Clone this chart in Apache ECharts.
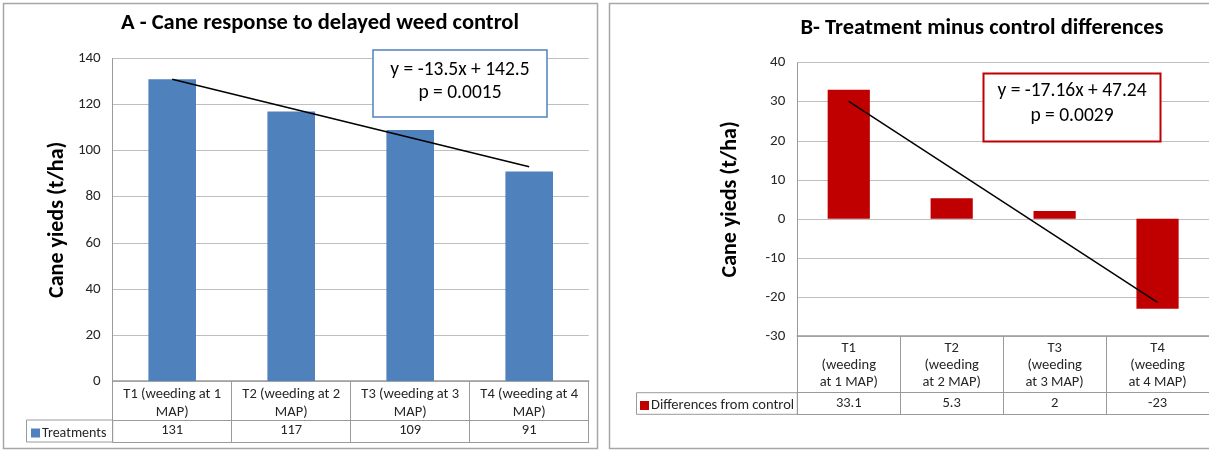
<!DOCTYPE html>
<html>
<head>
<meta charset="utf-8">
<script src="https://cdn.jsdelivr.net/npm/echarts@6/dist/echarts.min.js"></script>
<style>
html,body{margin:0;padding:0;background:#fff;}
#chart{width:1209px;height:450px;}
</style>
</head>
<body>
<div id="chart"></div>
<script>
// ---- data ----
const catLabelsA = ['T1 (weeding at 1\nMAP)', 'T2 (weeding at 2\nMAP)', 'T3 (weeding at 3\nMAP)', 'T4 (weeding at 4\nMAP)'];
const catLabelsB = ['T1\n(weeding\nat 1 MAP)', 'T2\n(weeding\nat 2 MAP)', 'T3\n(weeding\nat 3 MAP)', 'T4\n(weeding\nat 4 MAP)'];
const treatments = [131, 117, 109, 91];
const differences = [33.1, 5.3, 2, -23];
const trendA = [[0, 131], [3, 93]];
const trendB = [[0, 30.1], [3, -21.4]];
const yTicksA = { min: 0, max: 140, interval: 20 };
const yTicksB = { min: -30, max: 40, interval: 10 };
const titleA = 'A - Cane response to delayed weed control';
const titleB = 'B- Treatment minus control differences';
const yName = 'Cane yieds (t/ha)';
const seriesNameA = 'Treatments';
const seriesNameB = 'Differences from control';
const noteA = 'y = -13.5x + 142.5\np = 0.0015';
const noteB = 'y = -17.16x + 47.24\np = 0.0029';

// ---- styles ----
const FONT = 'Carlito, Calibri, Lato, sans-serif';
const BLUE = '#4F81BD', RED = '#C00000';
const LINE = '#9a9a9a', GRID = '#bfbfbf', TXT = '#262626';

const chart = echarts.init(document.getElementById('chart'), null, { renderer: 'canvas' });

function yAxis(gridIndex, t, gap) {
  return {
    type: 'value', gridIndex, min: t.min, max: t.max, interval: t.interval,
    name: yName, nameLocation: 'middle', nameRotate: 90, nameGap: gap,
    nameTextStyle: { fontFamily: FONT, fontSize: 22, fontWeight: 'bold', color: '#000' },
    axisLine: { show: true, lineStyle: { color: LINE, width: 1 } },
    axisTick: { show: false },
    axisLabel: { fontFamily: FONT, fontSize: 15, color: TXT, margin: 12 },
    splitLine: { show: true, lineStyle: { color: GRID, width: 1 } }
  };
}
function catAxis(gridIndex, labels, tickLen, lh) {
  return {
    type: 'category', gridIndex, position: 'bottom', data: labels, boundaryGap: true,
    axisLine: { show: true, onZero: false, lineStyle: { color: LINE, width: 1.5 } },
    axisTick: { show: true, length: tickLen, interval: 0, alignWithLabel: false, lineStyle: { color: LINE, width: 1 } },
    axisLabel: { interval: 0, fontFamily: FONT, fontSize: 14.5, color: TXT, margin: 4, lineHeight: lh, align: 'center' },
    splitLine: { show: false }
  };
}
function valRowAxis(gridIndex, values, offset) {
  return {
    type: 'category', gridIndex, position: 'bottom', offset, data: values.map(String), boundaryGap: true,
    axisLine: { show: true, onZero: false, lineStyle: { color: LINE, width: 1 } },
    axisTick: { show: false },
    axisLabel: { interval: 0, fontFamily: FONT, fontSize: 14.5, color: TXT, margin: 3 },
    splitLine: { show: false }
  };
}
function bottomAxis(gridIndex, n, offset) {
  return {
    type: 'category', gridIndex, position: 'bottom', offset, data: new Array(n).fill(''),
    axisLine: { show: true, onZero: false, lineStyle: { color: LINE, width: 1 } },
    axisTick: { show: false }, axisLabel: { show: false }, splitLine: { show: false }
  };
}

const option = {
  backgroundColor: '#fff',
  animation: false,
  grid: [
    { left: 112.7, top: 58.5, width: 476, height: 322.5 },
    { left: 797.3, top: 62.7, width: 412, height: 273.3 }
  ],
  legend: [
    { data: [seriesNameA], left: 31, top: 426, icon: 'rect', itemWidth: 9, itemHeight: 9, padding: 0,
      textStyle: { fontFamily: FONT, fontSize: 14, color: TXT, padding: [0, 0, 0, -3] } },
    { data: [seriesNameB], left: 640, top: 398, icon: 'rect', itemWidth: 9, itemHeight: 9, padding: 0,
      textStyle: { fontFamily: FONT, fontSize: 14.5, color: TXT, padding: [0, 0, 0, -3] } }
  ],
  xAxis: [
    catAxis(0, catLabelsA, 61, 18),
    valRowAxis(0, treatments, 39),
    bottomAxis(0, 4, 61),
    catAxis(1, catLabelsB, 78, 17),
    valRowAxis(1, differences, 56.7),
    bottomAxis(1, 4, 78)
  ],
  yAxis: [yAxis(0, yTicksA, 44), yAxis(1, yTicksB, 56)],
  series: [
    { name: seriesNameA, type: 'bar', xAxisIndex: 0, yAxisIndex: 0, data: treatments, barWidth: '40%',
      itemStyle: { color: BLUE } },
    { name: 'trendA', type: 'line', xAxisIndex: 0, yAxisIndex: 0, data: trendA, symbol: 'none',
      lineStyle: { color: '#000', width: 1.5 }, z: 5 },
    { name: seriesNameB, type: 'bar', xAxisIndex: 3, yAxisIndex: 1, data: differences, barWidth: '41%',
      itemStyle: { color: RED } },
    { name: 'trendB', type: 'line', xAxisIndex: 3, yAxisIndex: 1, data: trendB, symbol: 'none',
      lineStyle: { color: '#000', width: 1.5 }, z: 5 }
  ],
  graphic: [
    // panel frames
    { type: 'rect', shape: { x: 3.5, y: 3.5, width: 594, height: 445 }, style: { fill: null, stroke: '#a6a6a6', lineWidth: 1.5 }, z: -10 },
    { type: 'rect', shape: { x: 609.5, y: 3.5, width: 610, height: 445 }, style: { fill: null, stroke: '#a6a6a6', lineWidth: 1.5 }, z: -10 },
    // legend cells of data tables
    { type: 'rect', shape: { x: 26.5, y: 420, width: 86.2, height: 22 }, style: { fill: null, stroke: LINE, lineWidth: 1 } },
    { type: 'rect', shape: { x: 636.5, y: 392.7, width: 160.8, height: 21.6 }, style: { fill: null, stroke: LINE, lineWidth: 1 } },
    // titles
    { type: 'text', x: 320, y: 23, style: { text: titleA, fontFamily: FONT, fontSize: 22.5, fontWeight: 'bold', fill: '#000', textAlign: 'center', textVerticalAlign: 'middle' } },
    { type: 'text', x: 982, y: 28, style: { text: titleB, fontFamily: FONT, fontSize: 22.5, fontWeight: 'bold', fill: '#000', textAlign: 'center', textVerticalAlign: 'middle' } },
    // equation boxes
    { type: 'rect', shape: { x: 373, y: 50, width: 174, height: 67 }, style: { fill: '#fff', stroke: BLUE, lineWidth: 1.5 }, z: 10 },
    { type: 'text', x: 460, y: 82, z: 11, style: { text: noteA, fontFamily: FONT, fontSize: 19.5, lineHeight: 23, fill: '#000', textAlign: 'center', textVerticalAlign: 'middle' } },
    { type: 'rect', shape: { x: 983.5, y: 73.5, width: 177, height: 68 }, style: { fill: '#fff', stroke: RED, lineWidth: 2 }, z: 10 },
    { type: 'text', x: 1072, y: 104, z: 11, style: { text: noteB, fontFamily: FONT, fontSize: 19.5, lineHeight: 25, fill: '#000', textAlign: 'center', textVerticalAlign: 'middle' } }
  ]
};
chart.setOption(option);
</script>
</body>
</html>
